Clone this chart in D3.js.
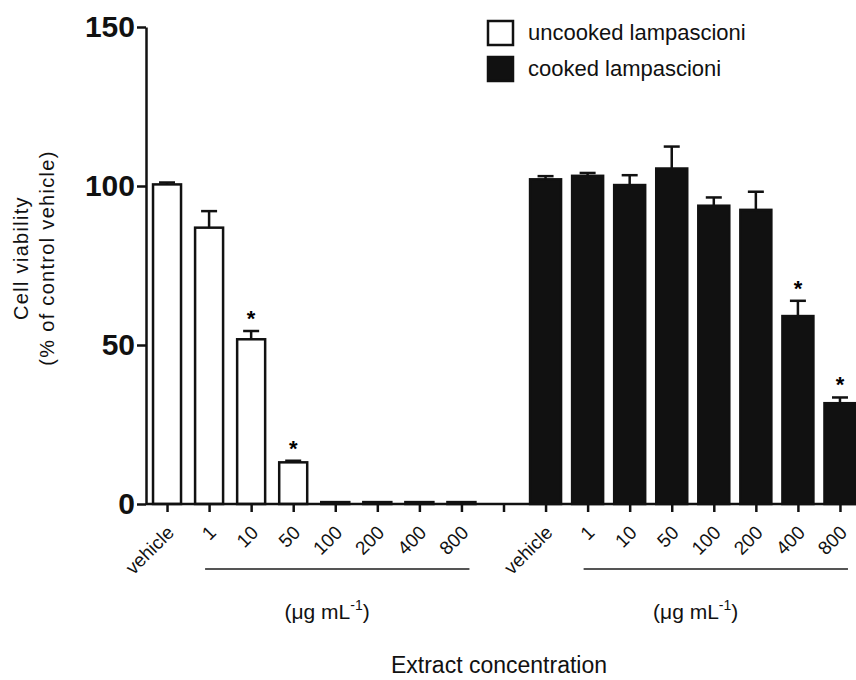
<!DOCTYPE html>
<html>
<head>
<meta charset="utf-8">
<script src="https://cdn.jsdelivr.net/npm/d3@7"></script>
<style>
  body { margin: 0; background: #fff; }
  svg { display: block; font-family: "Liberation Sans", Arial, Helvetica, sans-serif; }
</style>
</head>
<body>
<svg id="chart-svg"></svg>
<script>
// Data
var concLabels = ['vehicle', '1', '10', '50', '100', '200', '400', '800'];
var uncookedMean = [100.5, 86.9, 51.8, 13.1, 0.6, 0.6, 0.6, 0.6];
var uncookedSem = [0.6, 5.2, 2.6, 0.5, 0, 0, 0, 0];
var uncookedSig = [false, false, true, true, false, false, false, false];
var cookedMean = [102.1, 103.2, 100.3, 105.5, 93.8, 92.5, 59.1, 31.7];
var cookedSem = [1.0, 0.9, 3.1, 6.9, 2.6, 5.7, 4.8, 1.8];
var cookedSig = [false, false, false, false, false, false, true, true];
var yTicks = [0, 50, 100, 150];
var groupNames = ['uncooked lampascioni', 'cooked lampascioni'];

// build one row per slot (8 uncooked, 1 empty gap, 8 cooked)
var rows = [];
concLabels.forEach(function(c, i) {
    rows.push({ key: 'u-' + c, label: c, group: 0, mean: uncookedMean[i], sem: uncookedSem[i], sig: uncookedSig[i] });
});
rows.push({ key: 'gap', label: '', group: -1 });
concLabels.forEach(function(c, i) {
    rows.push({ key: 'c-' + c, label: c, group: 1, mean: cookedMean[i], sem: cookedSem[i], sig: cookedSig[i] });
});
var bars = rows.filter(function(d) { return d.group >= 0; });

var svg = d3.select('#chart-svg')
    .attr('width', 856)
    .attr('height', 680);

var x0 = 146, x1 = 861, yTop = 27, yBottom = 504;

var xScale = d3.scalePoint()
    .domain(rows.map(function(d) { return d.key; }))
    .range([x0, x1])
    .padding(0.5);

var yScale = d3.scaleLinear().domain([0, 150]).range([yBottom, yTop]);

// bars
var barW = { 0: 28, 1: 31 };
svg.append('g').selectAll('rect')
    .data(bars)
    .enter()
    .append('rect')
    .attr('x', function(d) { return xScale(d.key) - barW[d.group] / 2; })
    .attr('y', function(d) { return yScale(d.mean); })
    .attr('width', function(d) { return barW[d.group]; })
    .attr('height', function(d) { return yBottom - yScale(d.mean); })
    .attr('fill', function(d) { return d.group === 0 ? '#fff' : '#111'; })
    .attr('stroke', '#111')
    .attr('stroke-width', 2.5);

// upper error whiskers
var err = svg.append('g').attr('stroke', '#111').attr('stroke-width', 2.5)
    .selectAll('g')
    .data(bars.filter(function(d) { return d.sem > 0; }))
    .enter()
    .append('g');

err.append('line')
    .attr('x1', function(d) { return xScale(d.key); })
    .attr('x2', function(d) { return xScale(d.key); })
    .attr('y1', function(d) { return yScale(d.mean); })
    .attr('y2', function(d) { return yScale(d.mean + d.sem); });

err.append('line')
    .attr('x1', function(d) { return xScale(d.key) - 8; })
    .attr('x2', function(d) { return xScale(d.key) + 8; })
    .attr('y1', function(d) { return yScale(d.mean + d.sem); })
    .attr('y2', function(d) { return yScale(d.mean + d.sem); });

// significance stars
svg.append('g').selectAll('text')
    .data(bars.filter(function(d) { return d.sig; }))
    .enter()
    .append('text')
    .attr('x', function(d) { return xScale(d.key); })
    .attr('y', function(d) { return yScale(d.mean + d.sem) - 5; })
    .attr('text-anchor', 'middle')
    .attr('font-size', 22)
    .attr('font-weight', 'bold')
    .text('*');

// y axis
var yAxis = d3.axisLeft(yScale).tickValues(yTicks).tickSize(9).tickSizeOuter(0).tickPadding(2);
var gy = svg.append('g')
    .attr('transform', 'translate(' + x0 + ',0)')
    .call(yAxis);
gy.selectAll('path, line').attr('stroke', '#111').attr('stroke-width', 2.5);
gy.selectAll('text')
    .attr('font-size', 30)
    .attr('font-weight', 'bold')
    .attr('font-family', '"Liberation Sans", Arial, sans-serif')
    .attr('fill', '#111');

// x axis
var xAxis = d3.axisBottom(xScale).tickSize(8).tickSizeOuter(0)
    .tickFormat(function(k) { return rows.find(function(r) { return r.key === k; }).label; });
var gx = svg.append('g')
    .attr('transform', 'translate(0,' + yBottom + ')')
    .call(xAxis);
gx.select('.domain').attr('d', 'M' + x0 + ',0H' + x1);
gx.selectAll('path, line').attr('stroke', '#111').attr('stroke-width', 2.5);
gx.selectAll('text')
    .attr('font-size', 19)
    .attr('font-family', '"Liberation Sans", Arial, sans-serif')
    .attr('fill', '#111')
    .attr('text-anchor', 'end')
    .attr('y', 0)
    .attr('dy', '0.35em')
    .attr('transform', 'translate(3,25) rotate(-45)');

// concentration brackets and units
var unitShift = [76, 66];
[0, 1].forEach(function(g) {
    var p = g === 0 ? 'u-' : 'c-';
    var xa = xScale(p + '1') - 4, xb = xScale(p + '800') + 8;
    svg.append('line')
        .attr('x1', xa).attr('x2', xb)
        .attr('y1', 569).attr('y2', 569)
        .attr('stroke', '#555').attr('stroke-width', 2);
    var t = svg.append('text')
        .attr('x', xScale(p + '10') + unitShift[g])
        .attr('y', 619)
        .attr('text-anchor', 'middle')
        .attr('font-size', 21)
        .attr('fill', '#111');
    t.append('tspan').text('(\u03bcg mL');
    t.append('tspan').attr('dy', -9).attr('font-size', 14).text('-1');
    t.append('tspan').attr('dy', 9).text(')');
});

// axis titles
svg.append('text')
    .attr('x', 499)
    .attr('y', 673)
    .attr('text-anchor', 'middle')
    .attr('font-size', 23)
    .attr('fill', '#111')
    .text('Extract concentration');

var yTitle = svg.append('text')
    .attr('transform', 'translate(0,258) rotate(-90)')
    .attr('text-anchor', 'middle')
    .attr('font-size', 20)
    .attr('letter-spacing', 1.3)
    .attr('fill', '#111');
yTitle.append('tspan').attr('x', 0).attr('y', 28).text('Cell viability');
yTitle.append('tspan').attr('x', 0).attr('y', 54).text('(% of control vehicle)');

// legend
var legend = svg.append('g').attr('transform', 'translate(487,20)');
groupNames.forEach(function(name, i) {
    legend.append('rect')
        .attr('x', 1).attr('y', i * 36 + 1)
        .attr('width', 25).attr('height', 24)
        .attr('fill', i === 0 ? '#fff' : '#111')
        .attr('stroke', '#111').attr('stroke-width', 2.5);
    legend.append('text')
        .attr('x', 41).attr('y', i * 36 + 20)
        .attr('font-size', 22)
        .attr('fill', '#111')
        .text(name);
});
</script>
</body>
</html>
